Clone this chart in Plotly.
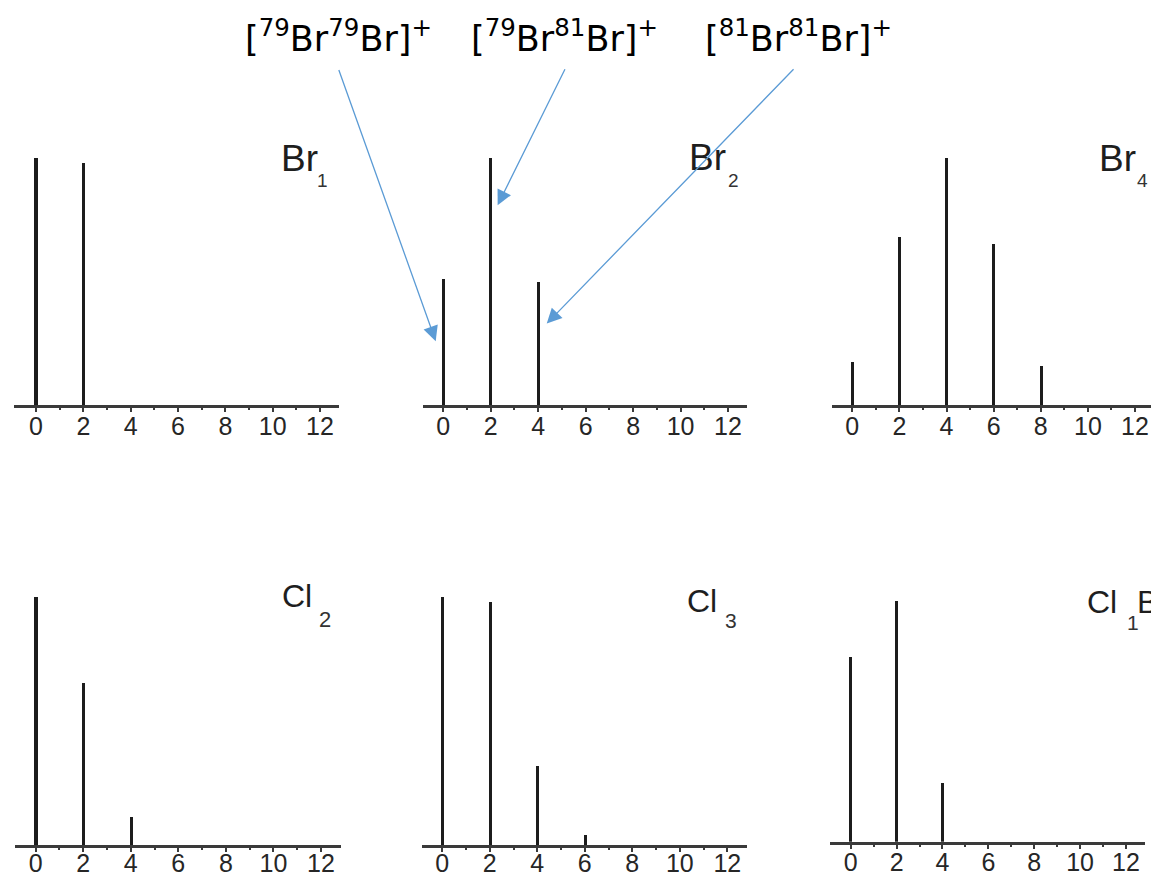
import plotly.graph_objects as go

# ---------------- data (relative isotope intensities, %) ----------------
br1_mass = [0, 2]
br1_int = [100, 98]
br2_mass = [0, 2, 4]
br2_int = [51, 100, 50]
br4_mass = [0, 2, 4, 6, 8]
br4_int = [17.6, 68.3, 100, 65.5, 16]
cl2_mass = [0, 2, 4]
cl2_int = [100, 65.6, 11.1]
cl3_mass = [0, 2, 4, 6]
cl3_int = [100, 98, 32, 3.8]
cl1br1_mass = [0, 2, 4]
cl1br1_int = [76.8, 100, 24.6]

tick_vals = [0, 2, 4, 6, 8, 10, 12]
tick_text = ["0", "2", "4", "6", "8", "10", "12"]

panel_main = ["Br", "Br", "Br", "Cl", "Cl", "Cl"]
panel_sub = ["1", "2", "4", "2", "3", "1"]

ion_labels = ["[<sup>79</sup>Br<sup>79</sup>Br]<sup>+</sup>",
              "[<sup>79</sup>Br<sup>81</sup>Br]<sup>+</sup>",
              "[<sup>81</sup>Br<sup>81</sup>Br]<sup>+</sup>"]
# arrow tips on the Br2 panel (mass offset, intensity)
arrow_tip_x = [-0.32, 2.29, 4.36]
arrow_tip_y = [25.9, 80.9, 33.0]

series = [(br1_mass, br1_int), (br2_mass, br2_int), (br4_mass, br4_int),
          (cl2_mass, cl2_int), (cl3_mass, cl3_int), (cl1br1_mass, cl1br1_int)]

# ---------------- layout geometry (pixels) ----------------
W, H = 1151, 878
# left, right of axis line, pixel of tick 0, pixel of tick 12, axis y pixel,
# px per intensity unit, tick label standoff
GEOM = [
    (14, 339, 36.0, 320.0, 406.7, 2.472, -7),
    (423, 747, 443.3, 728.0, 406.7, 2.472, -7),
    (831.7, 1151, 852.3, 1135.0, 406.7, 2.470, -7),
    (14.6, 341, 35.6, 321.0, 846.7, 2.475, -10),
    (421.7, 746.7, 442.3, 727.3, 846.7, 2.475, -10),
    (830, 1145, 850.7, 1126.0, 843.3, 2.410, -8),
]
# title positions: main left x, main baseline, sub left x, sub baseline, main size, sub size
TITLE = [
    (282, 171.7, 316.5, 186.7, 37, 19),
    (690, 170.0, 728.0, 186.7, 37, 19),
    (1100, 171.7, 1136.5, 187.0, 37, 19),
    (282.7, 607.5, 319.0, 626.7, 32, 22),
    (688.3, 611.7, 725.0, 628.0, 32, 21),
    (1088.3, 613.3, 1127.0, 630.0, 32, 21),
]
LABEL_CX = [339, 564, 798]
LABEL_BASE = 46.7
ARROW_TAIL = [(338.3, 70.0), (565.7, 69.3), (795.0, 69.3)]

YMAX = 105

def px(x):
    return x / W

def py(y):
    return 1 - y / H

fig = go.Figure()
annotations = []

for i, (xs, ys) in enumerate(series):
    n = i + 1
    sfx = "" if n == 1 else str(n)
    fig.add_trace(go.Bar(
        x=xs, y=ys, width=0.13,
        marker=dict(color="#1c1c1c", line=dict(width=0)),
        xaxis="x" + sfx, yaxis="y" + sfx,
        showlegend=False, hoverinfo="skip"))
    l, r, t0, t12, ay_px, ppy, standoff = GEOM[i]
    ppu = (t12 - t0) / 12.0
    bottom = ay_px - 1.5
    top = bottom - YMAX * ppy
    fig.update_layout(**{
        "xaxis" + sfx: dict(
            domain=[px(l), min(1.0, px(r))],
            range=[(l - t0) / ppu, (r - t0) / ppu],
            anchor="y" + sfx,
            showline=True, linecolor="#3a3a3a", linewidth=3,
            showgrid=False, zeroline=False,
            tickmode="array", tickvals=tick_vals, ticktext=tick_text,
            ticks="outside", ticklen=4, tickwidth=2, tickcolor="#3a3a3a",
            ticklabelstandoff=standoff,
            minor=dict(dtick=1, tick0=0, ticks="outside", ticklen=2,
                       tickwidth=2, tickcolor="#3a3a3a", showgrid=False),
            tickfont=dict(family="Liberation Sans, Arial, sans-serif",
                          size=25, color="#262626"),
            automargin=False,
            fixedrange=True),
        "yaxis" + sfx: dict(
            domain=[py(bottom), py(top)],
            range=[0, YMAX], visible=False, fixedrange=True,
            automargin=False,
            anchor="x" + sfx),
    })
    mx, mb, sx, sb, ms, ss = TITLE[i]
    annotations.append(dict(
        text=panel_main[i], xref="paper", yref="paper",
        x=px(mx - 2), y=py(mb - 0.3465 * ms), xanchor="left", yanchor="middle",
        showarrow=False, borderpad=0,
        font=dict(family="Liberation Sans, Arial, sans-serif", size=ms, color="#1e1e1e")))
    annotations.append(dict(
        text=panel_sub[i], xref="paper", yref="paper",
        x=px(sx - 1), y=py(sb - 0.3465 * ss), xanchor="left", yanchor="middle",
        showarrow=False, borderpad=0,
        font=dict(family="Liberation Sans, Arial, sans-serif", size=ss, color="#333333")))

# cut-off "Br" of the Cl1Br1 label at the right edge
annotations.append(dict(
    text="Br", xref="paper", yref="paper",
    x=px(1135.5), y=py(613.3 - 0.3465 * 32), xanchor="left", yanchor="middle",
    showarrow=False, borderpad=0,
    font=dict(family="Liberation Sans, Arial, sans-serif", size=32, color="#1e1e1e")))

# ion labels on top
LFS = 35
for k in range(3):
    annotations.append(dict(
        text=ion_labels[k], xref="paper", yref="paper",
        x=px(LABEL_CX[k]), y=py(LABEL_BASE - 0.30 * LFS),
        xanchor="center", yanchor="middle", showarrow=False, borderpad=0,
        font=dict(family="DejaVu Sans, sans-serif", size=LFS, color="#000000")))

# arrows pointing to Br2 peaks
x2_ppu = (GEOM[1][3] - GEOM[1][2]) / 12.0
for k in range(3):
    tip_px = GEOM[1][2] + arrow_tip_x[k] * x2_ppu
    tip_py = GEOM[1][4] - arrow_tip_y[k] * GEOM[1][5]
    tx, ty = ARROW_TAIL[k]
    annotations.append(dict(
        text="", xref="x2", yref="y2",
        x=arrow_tip_x[k], y=arrow_tip_y[k],
        ax=tx - tip_px, ay=ty - tip_py,
        showarrow=True, arrowhead=2, arrowsize=2.3, arrowwidth=1.3,
        arrowcolor="#5b9bd5", standoff=0, startstandoff=0))

fig.update_layout(
    width=W, height=H,
    margin=dict(l=0, r=0, t=0, b=0, pad=0),
    paper_bgcolor="white", plot_bgcolor="white",
    annotations=annotations,
    bargap=0,
)

fig.write_html("out.html", config={"displayModeBar": False},
               post_script="document.body.style.margin='0';document.body.style.overflow='hidden';")
